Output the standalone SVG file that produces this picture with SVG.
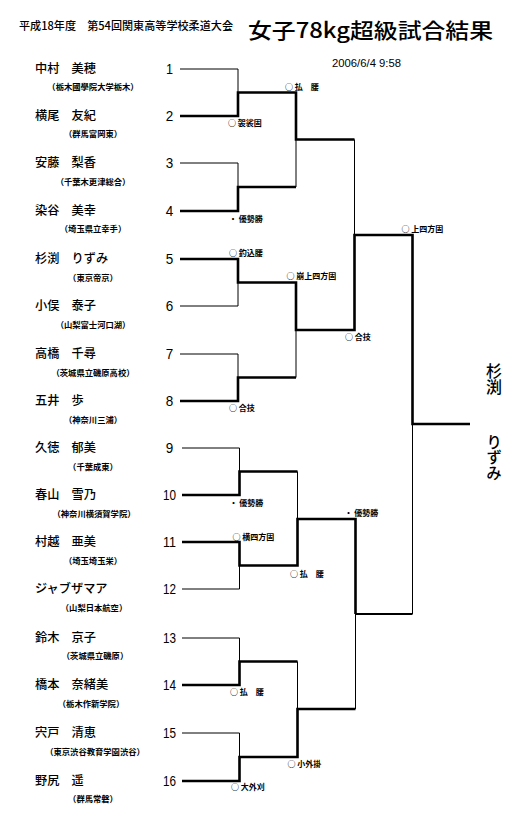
<svg xmlns="http://www.w3.org/2000/svg" width="532" height="825" viewBox="0 0 532 825">
<style>
text{font-family:"Noto Sans CJK JP","Noto Sans CJK SC",sans-serif;fill:#000}
.name{font-size:12.2px;font-weight:500}
.school{font-size:8.3px;text-anchor:middle;font-weight:700}
.num{font-family:"Liberation Sans",Arial,sans-serif;font-size:15px;text-anchor:middle}
.lbl{font-size:8px;font-weight:700}
.vert{writing-mode:vertical-rl;font-weight:500}
.thin{stroke:#000;stroke-width:1;fill:none}
.thick{stroke:#000;stroke-width:2.6;fill:none;stroke-linejoin:miter}
.mid{stroke:#000;stroke-width:2;fill:none}
</style>
<rect width="532" height="825" fill="#fff"/>
<g id="header">
<text x="19" y="29.5" font-size="11" font-weight="500" textLength="214" lengthAdjust="spacingAndGlyphs">平成18年度　第54回関東高等学校柔道大会</text>
<text x="248" y="37.5" font-size="21" font-weight="500" textLength="245" lengthAdjust="spacingAndGlyphs">女子78kg超級試合結果</text>
<text x="332" y="66.5" font-size="11.5" textLength="69" lengthAdjust="spacingAndGlyphs" style="font-family:'Liberation Sans',Arial,sans-serif">2006/6/4 9:58</text>
</g>
<g id="p1"><text class="name" x="35" y="73">中村　美穂</text><text class="school" x="93" y="90">（栃木國學院大学栃木）</text><text class="num" x="169.5" y="74" textLength="7" lengthAdjust="spacingAndGlyphs">1</text></g>
<g id="p2"><text class="name" x="35" y="120">横尾　友紀</text><text class="school" x="93" y="137">（群馬富岡東）</text><text class="num" x="169.5" y="121" textLength="7.5" lengthAdjust="spacingAndGlyphs">2</text></g>
<g id="p3"><text class="name" x="35" y="167">安藤　梨香</text><text class="school" x="93" y="184.5">（千葉木更津総合）</text><text class="num" x="169.5" y="168" textLength="7.5" lengthAdjust="spacingAndGlyphs">3</text></g>
<g id="p4"><text class="name" x="35" y="215">染谷　美幸</text><text class="school" x="93" y="232">（埼玉県立幸手）</text><text class="num" x="169.5" y="216" textLength="7.5" lengthAdjust="spacingAndGlyphs">4</text></g>
<g id="p5"><text class="name" x="35" y="263">杉渕　りずみ</text><text class="school" x="93" y="280.5">（東京帝京）</text><text class="num" x="169.5" y="264" textLength="7.5" lengthAdjust="spacingAndGlyphs">5</text></g>
<g id="p6"><text class="name" x="35" y="310">小俣　泰子</text><text class="school" x="93" y="327.5">（山梨富士河口湖）</text><text class="num" x="169.5" y="311" textLength="7.5" lengthAdjust="spacingAndGlyphs">6</text></g>
<g id="p7"><text class="name" x="35" y="358">高橋　千尋</text><text class="school" x="93" y="375.5">（茨城県立磯原高校）</text><text class="num" x="169.5" y="359" textLength="7.5" lengthAdjust="spacingAndGlyphs">7</text></g>
<g id="p8"><text class="name" x="35" y="405">五井　歩</text><text class="school" x="93" y="423">（神奈川三浦）</text><text class="num" x="169.5" y="406" textLength="7.5" lengthAdjust="spacingAndGlyphs">8</text></g>
<g id="p9"><text class="name" x="35" y="452">久徳　郁美</text><text class="school" x="93" y="470">（千葉成東）</text><text class="num" x="169.5" y="453" textLength="7.5" lengthAdjust="spacingAndGlyphs">9</text></g>
<g id="p10"><text class="name" x="35" y="499">春山　雪乃</text><text class="school" x="94" y="517">（神奈川横須賀学院）</text><text class="num" x="169.5" y="500" textLength="13" lengthAdjust="spacingAndGlyphs">10</text></g>
<g id="p11"><text class="name" x="35" y="546">村越　亜美</text><text class="school" x="93" y="564">（埼玉埼玉栄）</text><text class="num" x="169.5" y="547" textLength="13" lengthAdjust="spacingAndGlyphs">11</text></g>
<g id="p12"><text class="name" x="35" y="593">ジャブザマア</text><text class="school" x="94" y="611">（山梨日本航空）</text><text class="num" x="169.5" y="594" textLength="13" lengthAdjust="spacingAndGlyphs">12</text></g>
<g id="p13"><text class="name" x="35" y="642">鈴木　京子</text><text class="school" x="95" y="659">（茨城県立磯原）</text><text class="num" x="169.5" y="643" textLength="13" lengthAdjust="spacingAndGlyphs">13</text></g>
<g id="p14"><text class="name" x="35" y="689">橋本　奈緒美</text><text class="school" x="91" y="707">（栃木作新学院）</text><text class="num" x="169.5" y="690" textLength="13" lengthAdjust="spacingAndGlyphs">14</text></g>
<g id="p15"><text class="name" x="35" y="737">宍戸　清恵</text><text class="school" x="95" y="755">（東京渋谷教育学園渋谷）</text><text class="num" x="169.5" y="738" textLength="13" lengthAdjust="spacingAndGlyphs">15</text></g>
<g id="p16"><text class="name" x="35" y="785">野尻　遥</text><text class="school" x="93" y="801.5">（群馬常磐）</text><text class="num" x="169.5" y="786" textLength="13" lengthAdjust="spacingAndGlyphs">16</text></g>
<g id="connectors">
<path class="thin" d="M180 69H238V92.5M180 163H238V187M180 306H238V282.5M180 354H238V377.5M182 448H239.5V471.5M182 589H239.5V565.5M182 638H239.5V661.5M182 733H239.5V757"/>
<path class="thin" d="M296 139.5V187M296 330V377.5M297.5 471.5V519M297.5 661.5V709M354.5 139.5V235M355.5 614V709M412.5 424V614"/>
<path class="thick" d="M180 116H238V92.5H296V139.5H354.5"/>
<path class="thick" d="M180 211H238V187H296"/>
<path class="thick" d="M180 259H238V282.5H296V330H354.5V235H412.5V424H470"/>
<path class="thick" d="M180 401H238V377.5H296"/>
<path class="thick" d="M182 495H239.5V471.5H297.5"/>
<path class="thick" d="M182 542H239.5V565.5H297.5V519H355.5V614"/>
<path class="mid" d="M355.5 614H412.5"/>
<path class="thick" d="M182 685H239.5V661.5H297.5"/>
<path class="thick" d="M182 781H239.5V757H297.5V709H355.5"/>
</g>
<g id="labels">
<text class="lbl" x="228" y="125.5">○ 袈裟固</text>
<text class="lbl" x="229" y="222.3">・ 優勢勝</text>
<text class="lbl" x="285" y="89.7">○ 払　腰</text>
<text class="lbl" x="229" y="256.3">○ 釣込腰</text>
<text class="lbl" x="286.5" y="279">○ 崩上四方固</text>
<text class="lbl" x="345" y="340">○ 合技</text>
<text class="lbl" x="229" y="411">○ 合技</text>
<text class="lbl" x="401.5" y="232">○ 上四方固</text>
<text class="lbl" x="229.5" y="505.7">・ 優勢勝</text>
<text class="lbl" x="232.5" y="540.3">○ 横四方固</text>
<text class="lbl" x="290" y="577">○ 払　腰</text>
<text class="lbl" x="344.5" y="516">・ 優勢勝</text>
<text class="lbl" x="230" y="695.3">○ 払　腰</text>
<text class="lbl" x="287.5" y="767">○ 小外掛</text>
<text class="lbl" x="231" y="789.7">○ 大外刈</text>
</g>
<g id="winner">
<text class="vert" x="494" y="363" font-size="16">杉渕</text>
<text class="vert" x="494" y="434" font-size="15.5">りずみ</text>
</g>
</svg>
